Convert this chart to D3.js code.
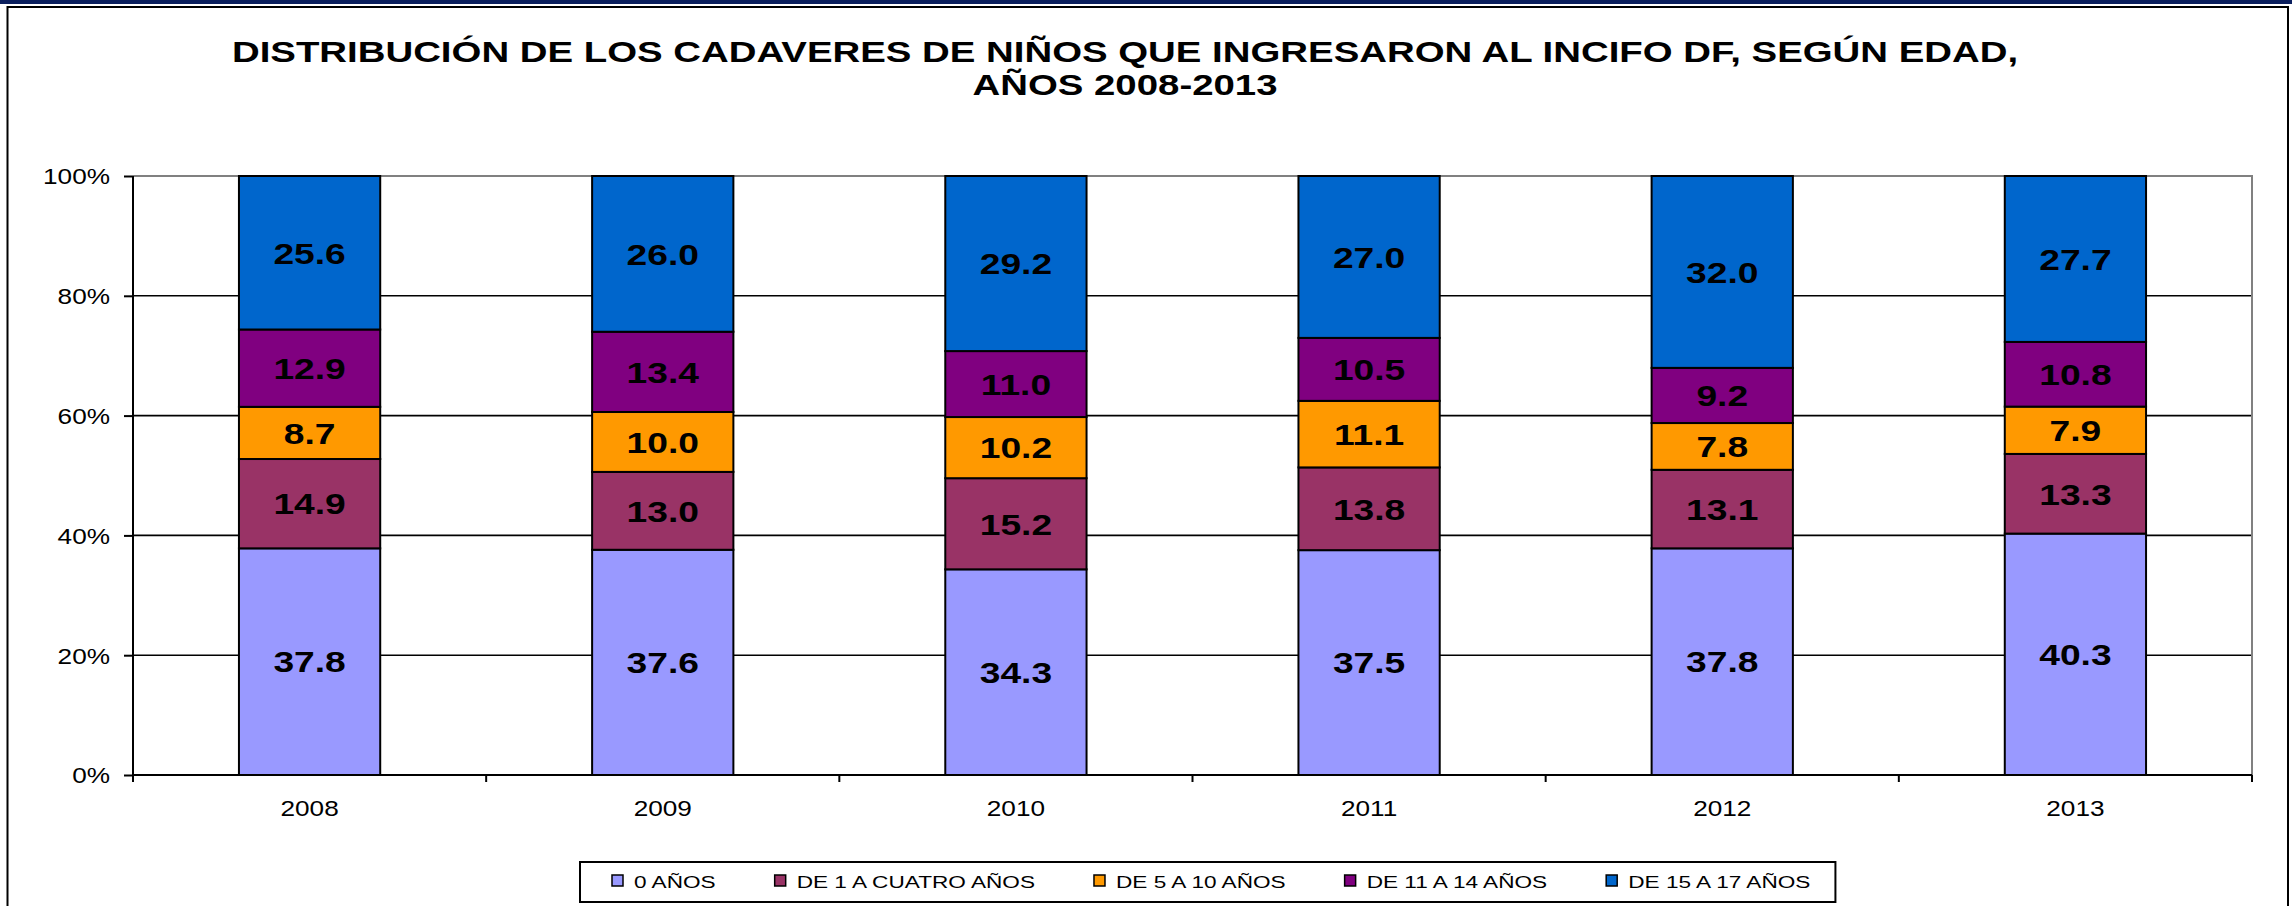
<!DOCTYPE html>
<html><head><meta charset="utf-8">
<script src="https://cdn.jsdelivr.net/npm/d3@7"></script>
<style>
html,body{margin:0;padding:0;background:#fff;}
svg{display:block;font-family:"Liberation Sans",Arial,sans-serif;}
</style></head>
<body>
<svg id="chart" width="2292" height="906"></svg>
<script>
const years = ["2008","2009","2010","2011","2012","2013"];
const seriesNames = ["0 AÑOS","DE 1 A CUATRO AÑOS","DE 5 A 10 AÑOS","DE 11 A 14 AÑOS","DE 15 A 17 AÑOS"];
const age0 = [37.8,37.6,34.3,37.5,37.8,40.3];
const age1to4 = [14.9,13.0,15.2,13.8,13.1,13.3];
const age5to10 = [8.7,10.0,10.2,11.1,7.8,7.9];
const age11to14 = [12.9,13.4,11.0,10.5,9.2,10.8];
const age15to17 = [25.6,26.0,29.2,27.0,32.0,27.7];
const yTicks = [0,0.2,0.4,0.6,0.8,1.0];
const titleLines = ["DISTRIBUCIÓN DE LOS CADAVERES DE NIÑOS QUE INGRESARON AL INCIFO DF, SEGÚN EDAD,","AÑOS 2008-2013"];
const colors = ["#9999FF","#993366","#FF9900","#800080","#0066CC"];

const seriesValues = [age0,age1to4,age5to10,age11to14,age15to17];
const keys = seriesNames;
const rows = years.map((y,i)=>{const r={year:y}; keys.forEach((k,j)=>r[k]=seriesValues[j][i]); return r;});

const svg = d3.select("#chart");
// top band + outer border
svg.append("rect").attr("x",0).attr("y",0).attr("width",2292).attr("height",4).attr("fill","#0b1f5e");
svg.append("rect").attr("x",7.5).attr("y",7).attr("width",2280.5).attr("height",920)
  .attr("fill","#fff").attr("stroke","#000").attr("stroke-width",2);

const L=133, R=2252, T=176, B=775;
const x = d3.scaleBand().domain(years).range([L,R]).paddingInner(0.6).paddingOuter(0.3);
const y = d3.scaleLinear().domain([0,1]).range([B,T]);

// gridlines
svg.append("g").selectAll("line").data(yTicks.filter(t=>t>0&&t<1)).join("line")
  .attr("x1",L).attr("x2",R).attr("y1",d=>y(d)).attr("y2",d=>y(d))
  .attr("stroke","#000").attr("stroke-width",1.6);
// plot border top/right gray
svg.append("path").attr("d",`M${L},${y(1)}H${R}V${y(0)}`).attr("fill","none").attr("stroke","#808080").attr("stroke-width",2);

// stacks
const stack = d3.stack().keys(keys).offset(d3.stackOffsetExpand);
const stacked = stack(rows);
const g = svg.append("g");
stacked.forEach((s,si)=>{
  g.append("g").selectAll("rect").data(s).join("rect")
    .attr("x",d=>x(d.data.year)).attr("width",x.bandwidth())
    .attr("y",d=>y(d[1])).attr("height",d=>y(d[0])-y(d[1]))
    .attr("fill",colors[si]).attr("stroke","#000").attr("stroke-width",2);
});
// labels
stacked.forEach((s,si)=>{
  g.append("g").selectAll("text").data(s).join("text")
    .attr("transform",d=>`translate(${x(d.data.year)+x.bandwidth()/2},${(y(d[0])+y(d[1]))/2}) scale(1.24,1)`)
    .attr("text-anchor","middle").attr("dy","0.36em")
    .attr("font-size",30).attr("font-weight","bold").attr("fill","#000")
    .text(d=>d.data[s.key].toFixed(1));
});

// y axis
const yAxis = d3.axisLeft(y).tickValues(yTicks).tickFormat(d3.format(".0%")).tickSize(9).tickPadding(14);
const ya = svg.append("g").attr("transform",`translate(${L},0)`).call(yAxis);
ya.select(".domain").attr("stroke","#000").attr("stroke-width",2).attr("d",`M0,${T}V${B+7}`);
ya.selectAll(".tick line").attr("stroke","#000").attr("stroke-width",2);
ya.selectAll(".tick text").attr("font-size",22).attr("fill","#000").attr("font-family","Liberation Sans, Arial, sans-serif")
  .attr("dy","0.36em")
  .each(function(){const t=d3.select(this); const xx=+t.attr("x"); t.attr("x",null).attr("transform",`translate(${xx},0) scale(1.19,1)`);});

// x axis
const xAxis = d3.axisBottom(x).tickSize(0).tickPadding(0);
const xa = svg.append("g").attr("transform",`translate(0,${B})`).call(xAxis);
xa.select(".domain").attr("stroke","#000").attr("stroke-width",2).attr("d",`M${L},0H${R}`);
xa.selectAll(".tick text").attr("font-size",22).attr("fill","#000").attr("font-family","Liberation Sans, Arial, sans-serif")
  .attr("y",null).attr("dy",null)
  .attr("transform","translate(0,41) scale(1.19,1)");
const bounds = d3.range(years.length+1).map(i=>x.range()[0]+i*x.step());
svg.append("g").selectAll("line").data(bounds).join("line")
  .attr("x1",d=>d).attr("x2",d=>d).attr("y1",B).attr("y2",B+7)
  .attr("stroke","#000").attr("stroke-width",2);

// title
svg.append("g").selectAll("text").data(titleLines).join("text")
  .attr("transform",(d,i)=>`translate(1125,${62+i*33}) scale(1.28,1)`)
  .attr("text-anchor","middle").attr("font-size",30).attr("font-weight","bold").attr("fill","#000")
  .text(d=>d);

// legend
const legG = svg.append("g");
const legBox = legG.append("rect").attr("fill","#fff").attr("stroke","#000").attr("stroke-width",2);
let lx = 612;
const ls = 1.33;
seriesNames.forEach((n,i)=>{
  legG.append("rect").attr("x",lx).attr("y",875).attr("width",11).attr("height",11)
    .attr("fill",colors[i]).attr("stroke","#000").attr("stroke-width",1.5);
  const t = legG.append("text").attr("transform",`translate(${lx+22},887.5) scale(${ls},1)`)
    .attr("font-size",17).attr("fill","#000").text(n);
  const w = t.node().getComputedTextLength()*ls;
  lx += 22 + w + 59;
});
legBox.attr("x",580).attr("y",862).attr("width",(lx-59+25)-580).attr("height",40);
</script>
</body></html>
